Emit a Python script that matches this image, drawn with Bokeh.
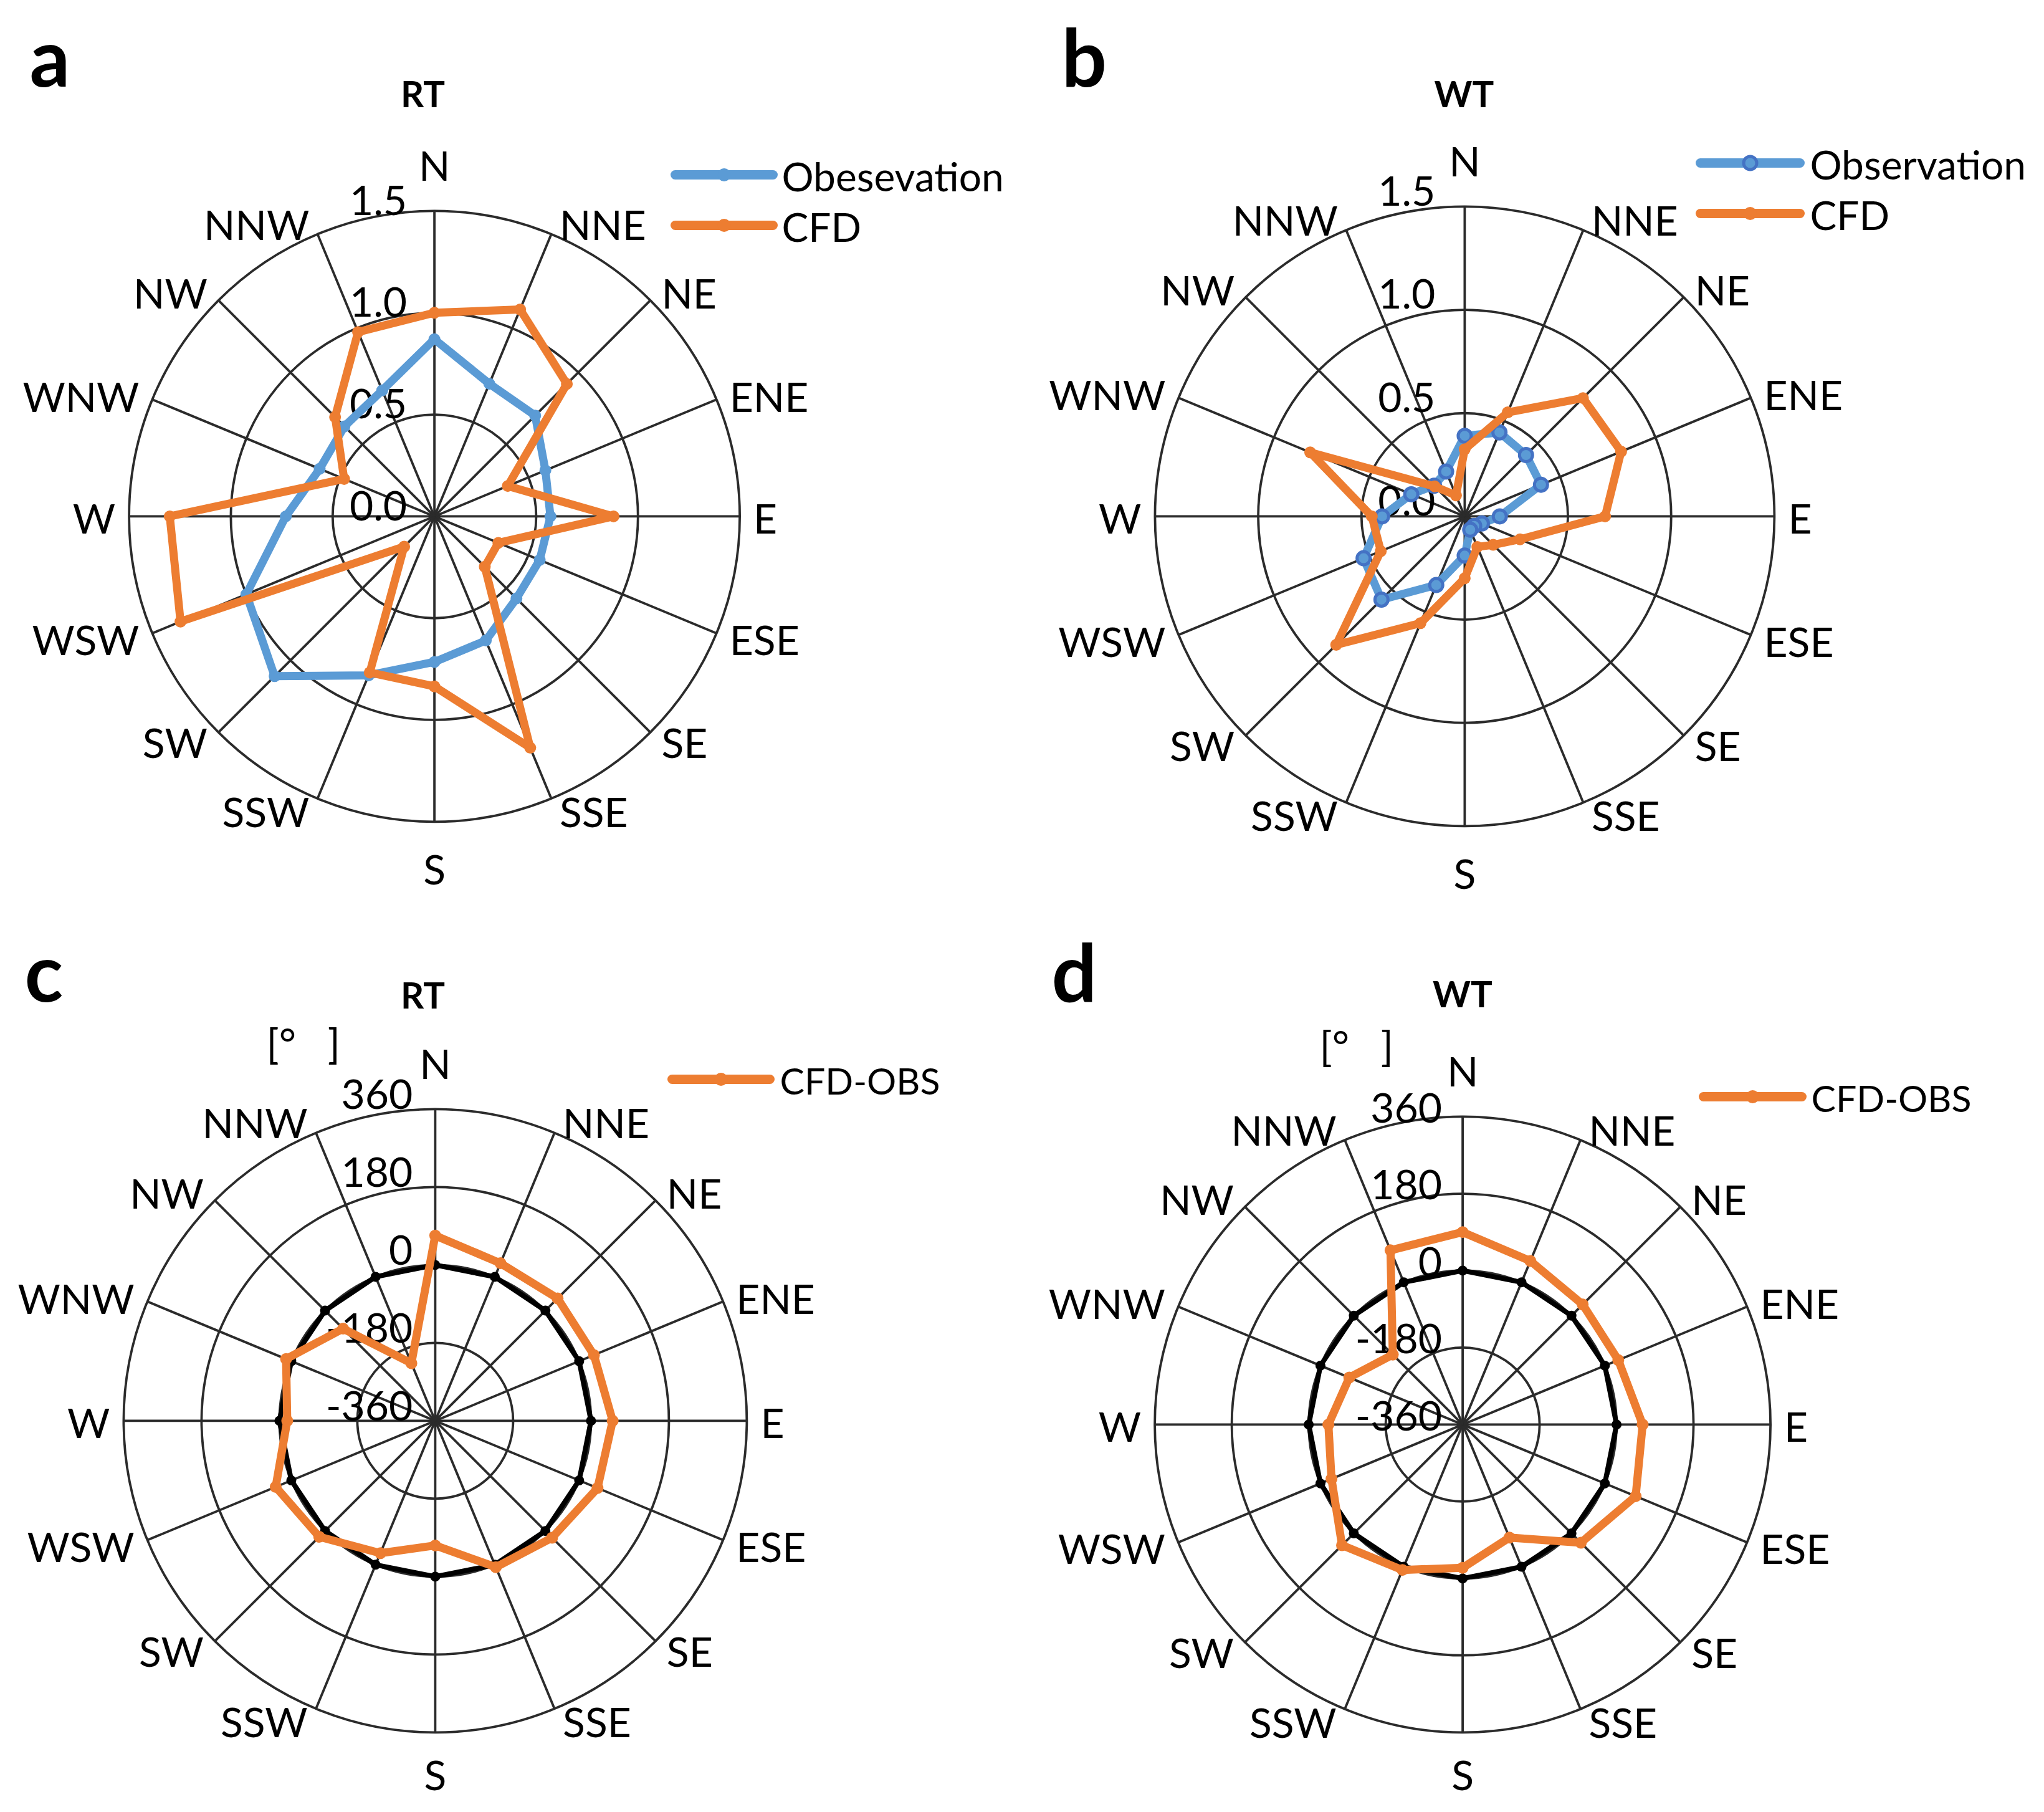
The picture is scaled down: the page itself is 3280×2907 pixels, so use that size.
import numpy as np
from bokeh.plotting import figure
from bokeh.models import Range1d
from bokeh.layouts import column, row
from bokeh.core.properties import value
from bokeh.embed import file_html
from bokeh.resources import INLINE

# ---------------- data ----------------
directions = ["N", "NNE", "NE", "ENE", "E", "ESE", "SE", "SSE",
              "S", "SSW", "SW", "WSW", "W", "WNW", "NW", "NNW"]

# wind speed ratio, panel a (RT)
rt_obs = [0.87, 0.705, 0.70, 0.59, 0.57, 0.56, 0.57, 0.66,
          0.715, 0.845, 1.11, 1.00, 0.73, 0.61, 0.625, 0.67]
rt_cfd = [1.00, 1.10, 0.92, 0.39, 0.88, 0.34, 0.35, 1.23,
          0.835, 0.83, 0.21, 1.35, 1.30, 0.48, 0.69, 0.98]
# wind speed ratio, panel b (WT)
wt_obs = [0.39, 0.44, 0.42, 0.40, 0.17, 0.09, 0.065, 0.07,
          0.19, 0.36, 0.57, 0.53, 0.40, 0.28, 0.21, 0.235]
wt_cfd = [0.325, 0.545, 0.81, 0.82, 0.68, 0.29, 0.195, 0.16,
          0.30, 0.56, 0.88, 0.44, 0.45, 0.81, 0.205, 0.11]
# wind direction difference CFD-OBS [deg], panels c, d
rt_diff = [68, 34, 40, 37, 50, 46, 22, 6,
           -72, -29, 19, 39, -18, 13, -59, -216]
wt_diff = [90, 54, 37, 34, 61, 78, 31, -74,
           -25, 8, 39, -28, -46, -73, -129, 81]
zero_ref = [0] * 16

speed_ticks = [0.0, 0.5, 1.0, 1.5]
speed_tick_labels = ["0.0", "0.5", "1.0", "1.5"]
angle_ticks = [-360, -180, 0, 180, 360]
angle_tick_labels = ["-360", "-180", "0", "180", "360"]

# ---------------- style ----------------
ORANGE = "#ED7D31"
BLUE = "#5B9BD5"
BLUE_DARK = "#4472C4"
GRID = "#2b2b2b"
FONT = "Lato"
CAP = 0.7165          # cap height / em for Lato
BL_FIX = 0.33         # empirical baseline correction (em)
LBL_FS = 66           # category / tick label size (px)
LW = 13               # data line width
MS = 19               # data marker size
LETTER_FS = 128

ang = np.deg2rad(np.arange(16) * 22.5)   # clockwise from north


def make_panel(W, H, origin, center, R, rmin, rmax):
    ox, oy = origin
    pcx, pcy = center
    cx, cy = pcx - ox, pcy - oy
    k = R / (rmax - rmin)  # px per value unit
    p = figure(width=W, height=H,
               x_range=Range1d(-cx / k, (W - cx) / k),
               y_range=Range1d(-(H - cy) / k, cy / k),
               output_backend="svg", toolbar_location=None,
               x_axis_location=None, y_axis_location=None,
               min_border=0, background_fill_color="white",
               border_fill_color="white")
    p.grid.visible = False
    p.outline_line_color = None

    def page(X, Y):
        return (X - pcx) / k, (pcy - Y) / k

    return p, k, page


def put_text(p, k, x_px, capc_px, txt, fs, align="left", bold=False):
    """x_px, capc_px: anchor edge and cap-height centre (px, relative to the
    panel centre, y up)."""
    yb = capc_px - CAP * fs / 2 + BL_FIX * fs
    p.text(x=[x_px / k], y=[yb / k], text=[txt], text_font=value(FONT),
           text_font_size=value(f"{fs}px"), text_align=align,
           text_baseline="alphabetic", text_color="black",
           text_font_style="bold" if bold else "normal")


def draw_grid(p, k, rmin, ticks, tick_labels, tick_gap, tick_off, s_gap):
    rmax = ticks[-1] - rmin
    for t in ticks:
        r = t - rmin
        if r > 0:
            p.circle(x=0, y=0, radius=r, fill_color=None,
                     line_color=GRID, line_width=3.8)
    xs = [[0, rmax * np.sin(a)] for a in ang]
    ys = [[0, rmax * np.cos(a)] for a in ang]
    p.multi_line(xs, ys, line_color=GRID, line_width=3.8)
    R = rmax * k
    for i, name in enumerate(directions):
        s, c = np.sin(ang[i]), np.cos(ang[i])
        if i == 0:
            put_text(p, k, 0.0, R + 52 + CAP * LBL_FS / 2, name, LBL_FS, "center")
        elif i == 8:
            put_text(p, k, 0.0, -(R + s_gap) - CAP * LBL_FS / 2, name, LBL_FS, "center")
        else:
            gap = 8 + 14 * abs(s)
            x = R * s + gap * np.sign(s)
            put_text(p, k, x, R * c + 20 * c, name, LBL_FS,
                     "left" if s > 0 else "right")
    for t, lab in zip(ticks, tick_labels):
        r = (t - rmin) * k
        put_text(p, k, -tick_gap, r + tick_off, lab, LBL_FS, "right")


def series(p, vals, rmin, color, lw, msize, mfill=None, mline=None, mlw=0):
    r = np.array(vals, dtype=float) - rmin
    x = list(r * np.sin(ang)) + [r[0] * np.sin(ang[0])]
    y = list(r * np.cos(ang)) + [r[0] * np.cos(ang[0])]
    p.line(x, y, line_color=color, line_width=lw, line_join="round")
    p.scatter(x[:-1], y[:-1], size=msize, marker="circle",
              fill_color=mfill or color, line_color=mline or color,
              line_width=mlw)


def page_text(p, k, page, X, Ycap, txt, fs, align="left", bold=False):
    x, y = page(X, Ycap)
    put_text(p, k, x * k, y * k, txt, fs, align, bold)


def panel_letter(p, k, page, X, baseline, txt):
    page_text(p, k, page, X, baseline - CAP * LETTER_FS / 2, txt, LETTER_FS, bold=True)


def legend_entry(p, k, page, x0, x1, Y, color, label, fs, tx,
                 mfill=None, mline=None, mlw=0):
    (ax, ay), (bx, by) = page(x0, Y), page(x1, Y)
    p.line([ax, bx], [ay, by], line_color=color, line_width=15, line_cap="round")
    mx, my = page((x0 + x1) / 2, Y)
    p.scatter([mx], [my], size=21, marker="circle", fill_color=mfill or color,
              line_color=mline or color, line_width=mlw)
    page_text(p, k, page, tx, Y, label, fs)


UNIT = "[°\u00a0\u00a0\u00a0]"

# ---------------- panel a ----------------
pa, ka, page_a = make_panel(1650, 1450, (8, 8), (704.6, 835.9), 490, 0.0, 1.5)
draw_grid(pa, ka, 0.0, speed_ticks, speed_tick_labels, 44, 19, 50)
series(pa, rt_obs, 0.0, BLUE, LW, MS)
series(pa, rt_cfd, 0.0, ORANGE, LW, MS)
page_text(pa, ka, page_a, 686, 155, "RT", 58, "center", bold=True)
panel_letter(pa, ka, page_a, 55, 139, "a")
legend_entry(pa, ka, page_a, 1091, 1248, 288, BLUE, "Obesevation", 64, 1262)
legend_entry(pa, ka, page_a, 1091, 1248, 369, ORANGE, "CFD", 64, 1262)

# ---------------- panel b ----------------
pb, kb, page_b = make_panel(1614, 1450, (1658, 8), (2357.9, 835.9), 497, 0.0, 1.5)
draw_grid(pb, kb, 0.0, speed_ticks, speed_tick_labels, 47, 27, 50)
series(pb, wt_obs, 0.0, BLUE, LW, 21, mfill=BLUE, mline=BLUE_DARK, mlw=5)
series(pb, wt_cfd, 0.0, ORANGE, LW, MS)
page_text(pb, kb, page_b, 2357, 155, "WT", 58, "center", bold=True)
panel_letter(pb, kb, page_b, 1711, 139, "b")
legend_entry(pb, kb, page_b, 2736, 2896, 269, BLUE, "Observation", 64, 2912,
             mfill=BLUE, mline=BLUE_DARK, mlw=5)
legend_entry(pb, kb, page_b, 2736, 2896, 350, ORANGE, "CFD", 64, 2912)

# ---------------- panel c ----------------
pc, kc, page_c = make_panel(1650, 1441, (8, 1458), (705.9, 2286.9), 500, -360, 360)
draw_grid(pc, kc, -360, angle_ticks, angle_tick_labels, 36, 26, 42)
series(pc, zero_ref, -360, "black", 8, 16)
series(pc, rt_diff, -360, ORANGE, LW, MS)
page_text(pc, kc, page_c, 686, 1601, "RT", 58, "center", bold=True)
panel_letter(pc, kc, page_c, 47, 1607, "c")
page_text(pc, kc, page_c, 435, 1678, UNIT, 66)
legend_entry(pc, kc, page_c, 1086, 1243, 1739, ORANGE, "CFD-OBS", 59, 1259)

# ---------------- panel d ----------------
pd_, kd, page_d = make_panel(1614, 1441, (1658, 1458), (2354.6, 2292.9), 494, -360, 360)
draw_grid(pd_, kd, -360, angle_ticks, angle_tick_labels, 33, 16, 42)
series(pd_, zero_ref, -360, "black", 8, 16)
series(pd_, wt_diff, -360, ORANGE, LW, MS)
page_text(pd_, kd, page_d, 2354.5, 1599, "WT", 58, "center", bold=True)
panel_letter(pd_, kd, page_d, 1695, 1607, "d")
page_text(pd_, kd, page_d, 2125, 1682, UNIT, 66)
legend_entry(pd_, kd, page_d, 2741, 2899, 1767, ORANGE, "CFD-OBS", 59, 2914)

layout = column(row(pa, pb), row(pc, pd_))
open("out.html", "w").write(file_html(layout, INLINE))
